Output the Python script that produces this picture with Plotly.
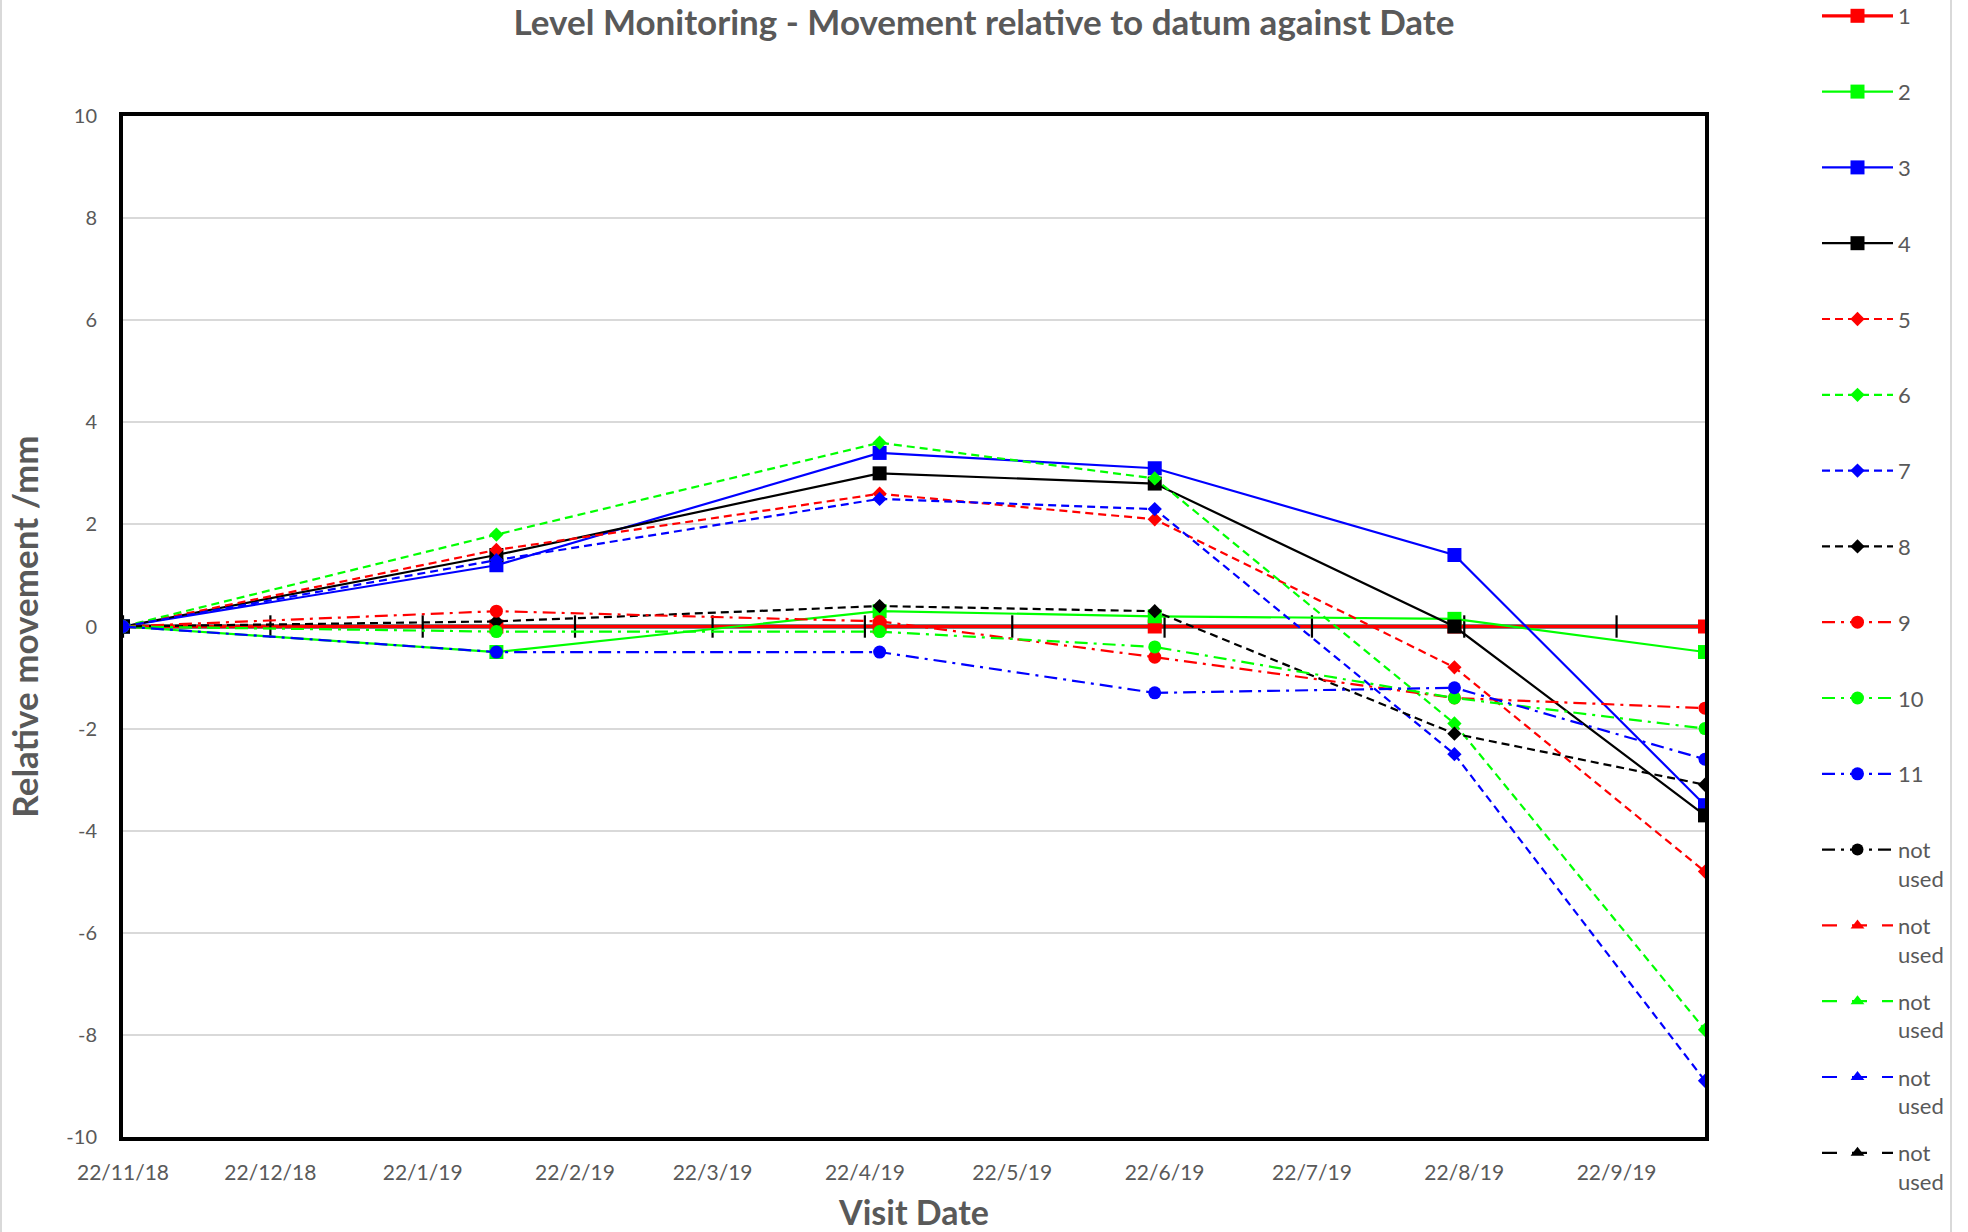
import plotly.graph_objects as go

# ---- data ----
visit_dates = ["2018-11-22", "2019-02-06", "2019-04-25", "2019-06-20", "2019-08-20", "2019-10-10"]

s1 = [0, 0, 0, 0, 0, 0]
s2 = [0, -0.5, 0.3, 0.2, 0.15, -0.5]
s3 = [0, 1.2, 3.4, 3.1, 1.4, -3.5]
s4 = [0, 1.4, 3.0, 2.8, 0.0, -3.7]
s5 = [0, 1.5, 2.6, 2.1, -0.8, -4.8]
s6 = [0, 1.8, 3.6, 2.9, -1.9, -7.9]
s7 = [0, 1.3, 2.5, 2.3, -2.5, -8.9]
s8 = [0, 0.1, 0.4, 0.3, -2.1, -3.1]
s9 = [0, 0.3, 0.1, -0.6, -1.4, -1.6]
s10 = [0, -0.1, -0.1, -0.4, -1.4, -2.0]
s11 = [0, -0.5, -0.5, -1.3, -1.2, -2.6]

series_names = ["1", "2", "3", "4", "5", "6", "7", "8", "9", "10", "11"]
series_values = [s1, s2, s3, s4, s5, s6, s7, s8, s9, s10, s11]
unused_names = ["not used", "not used", "not used", "not used", "not used"]

tick_dates = ["2018-11-22", "2018-12-22", "2019-01-22", "2019-02-22", "2019-03-22", "2019-04-22",
              "2019-05-22", "2019-06-22", "2019-07-22", "2019-08-22", "2019-09-22"]
tick_labels = ["22/11/18", "22/12/18", "22/1/19", "22/2/19", "22/3/19", "22/4/19",
               "22/5/19", "22/6/19", "22/7/19", "22/8/19", "22/9/19"]
y_ticks = [-10, -8, -6, -4, -2, 0, 2, 4, 6, 8, 10]
y_tick_labels = ["-10", "-8", "-6", "-4", "-2", "0", "2", "4", "6", "8", "10"]

# ---- styles ----
RED, GREEN, BLUE, BLACK = "#FF0000", "#00FF00", "#0000FF", "#000000"
colors = [RED, GREEN, BLUE, BLACK] * 3
DASH_SHORT = "8px,5px"
DASH_DOT = "13px,6px,3px,6px"
styles = (
    [dict(dash="solid", symbol="square", size=14)] * 4
    + [dict(dash=DASH_SHORT, symbol="diamond", size=11)] * 4
    + [dict(dash=DASH_DOT, symbol="circle", size=13)] * 3
)
unused_styles = [
    dict(color=BLACK, dash=DASH_DOT, symbol="circle"),
    dict(color=RED, dash="longdash", symbol="triangle-up"),
    dict(color=GREEN, dash="longdash", symbol="triangle-up"),
    dict(color=BLUE, dash="longdash", symbol="triangle-up"),
    dict(color=BLACK, dash="longdash", symbol="triangle-up"),
]

FONT = "Lato"
GREY = "#595959"

fig = go.Figure()

for i, (name, vals) in enumerate(zip(series_names, series_values)):
    st = styles[i]
    fig.add_trace(go.Scatter(
        x=visit_dates, y=vals, name=name + "<br>\u00a0", legendgroup="g%d" % i,
        mode="lines+markers",
        line=dict(color=colors[i], width=3.2 if i == 0 else 2.2, dash=st["dash"]),
        marker=dict(color=colors[i], symbol=st["symbol"], size=st["size"]),
    ))
    if i == 0:
        # cross tick marks of the horizontal axis at y = 0
        fig.add_trace(go.Scatter(
            x=tick_dates, y=[0] * len(tick_dates), mode="markers", showlegend=False,
            hoverinfo="skip",
            marker=dict(symbol="line-ns", size=16, color=BLACK,
                        line=dict(color=BLACK, width=2.2)),
        ))

for j, (name, st) in enumerate(zip(unused_names, unused_styles)):
    fig.add_trace(go.Scatter(
        x=[None], y=[None], name="not<br>used", legendgroup="u%d" % j,
        mode="lines+markers",
        line=dict(color=st["color"], width=2.2, dash=st["dash"]),
        marker=dict(color=st["color"], symbol=st["symbol"], size=12),
    ))

W, H = 1968, 1232
L, T = 123, 116
RIGHT, BOTTOM = 1705, 1137
R, B = W - RIGHT, H - BOTTOM
pw, ph = RIGHT - L, BOTTOM - T

fig.update_layout(
    width=W, height=H,
    margin=dict(l=L, r=R, t=T, b=B, autoexpand=False),
    paper_bgcolor="white", plot_bgcolor="white",
    font=dict(family=FONT, color=GREY),
    title=dict(text="Level Monitoring - Movement relative to datum against Date",
               x=0.5, xanchor="center", y=1 - 23 / H, yanchor="middle",
               font=dict(family=FONT, size=35, color=GREY, weight="bold")),
    showlegend=True,
    legend=dict(x=(1817 - L) / pw, xanchor="left", y=1 + (T + 5) / ph, yanchor="top",
                font=dict(family=FONT, size=22, color=GREY),
                traceorder="grouped", tracegroupgap=15.6, valign="top",
                bgcolor="rgba(0,0,0,0)", itemwidth=71, maxheight=1),
    xaxis=dict(type="date", range=[visit_dates[0], visit_dates[-1]],
               tickvals=tick_dates, ticktext=tick_labels, ticks="",
               showgrid=False, zeroline=False,
               showline=True, linecolor=BLACK, linewidth=4, mirror=True,
               tickfont=dict(family=FONT, size=21, color=GREY), ticklabelstandoff=14,
               title=dict(text="Visit Date", standoff=25,
                          font=dict(family=FONT, size=34, color=GREY, weight="bold")),
               automargin=False),
    yaxis=dict(range=[-10, 10], tickvals=y_ticks, ticktext=y_tick_labels, ticks="",
               showgrid=True, gridcolor="#D9D9D9", gridwidth=1.5,
               zeroline=True, zerolinecolor="#7F7F7F", zerolinewidth=5,
               showline=True, linecolor=BLACK, linewidth=4, mirror=True,
               tickfont=dict(family=FONT, size=20, color=GREY), ticklabelstandoff=18,
               title=dict(text="Relative movement /mm", standoff=18,
                          font=dict(family=FONT, size=35, color=GREY, weight="bold")),
               automargin=False),
    shapes=[
        dict(type="line", xref="paper", yref="paper",
             x0=(1 - L) / pw, x1=(1 - L) / pw, y0=-B / ph, y1=1 + T / ph,
             line=dict(color="#D9D9D9", width=2)),
        dict(type="line", xref="paper", yref="paper",
             x0=(1951 - L) / pw, x1=(1951 - L) / pw, y0=-B / ph, y1=1 + T / ph,
             line=dict(color="#D9D9D9", width=2)),
    ],
)

# remove the browser's default 8px page margin so the figure fills the window exactly
fig.write_html("out.html", config={"displayModeBar": False},
               post_script="document.body.style.margin='0';")
